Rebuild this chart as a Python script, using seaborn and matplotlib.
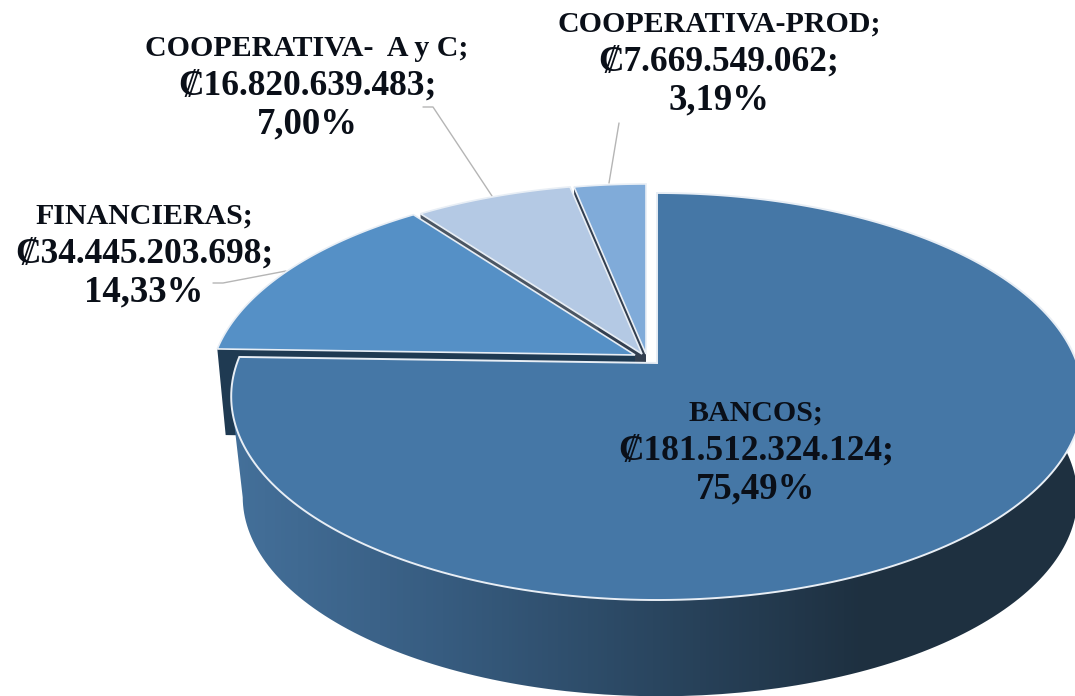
import numpy as np
import seaborn as sns
import matplotlib.pyplot as plt
from matplotlib.colors import ListedColormap
from matplotlib.patches import PathPatch
from matplotlib.path import Path

# data
categories = ["BANCOS", "FINANCIERAS", "COOPERATIVA-  A y C", "COOPERATIVA-PROD"]
amounts = [181512324124, 34445203698, 16820639483, 7669549062]
percent_labels = ["75,49%", "14,33%", "7,00%", "3,19%"]

top_colors = ["#4577A6", "#5590C6", "#B4C9E4", "#80ABD9"]
wall_colors = ["#1F3448", "#1F3A52", "#4B5663", "#333F50"]

# perspective of the pie, in pixels
RH, RV, K = 420, 198, 0.1646
apex = [(657, 363), (635, 355), (642, 354), (646, 354)]


def project(theta, cx, cy, scale=1.0, depth=0):
    # theta runs clockwise from 12 o'clock
    x = np.sin(theta)
    y = np.cos(theta)
    d = 1 + K * y
    return cx + scale * RH * x / d, cy + depth - scale * RV * y / d


def arc(start, end, cx, cy, scale=1.0, depth=0):
    theta = np.linspace(start, end, 240)
    return project(theta, cx, cy, scale, depth)


sns.set_theme(style="white")
plt.rcParams["font.family"] = ["Liberation Serif", "DejaVu Serif"]

fig, ax = plt.subplots(figsize=(10.75, 6.96), dpi=100)
fig.subplots_adjust(0, 0, 1, 1)

shares = np.array(amounts) / sum(amounts)
edges = np.concatenate([[0], np.cumsum(shares)]) * 2 * np.pi

# cut faces of the small slices, seen through the gaps
for i in [2, 3, 1]:
    cx, cy = apex[i]
    ox, oy = project(edges[i], cx, cy)
    d = 86
    bx, by = project(edges[i], cx, cy, 0.98, d)
    ax.fill([cx, ox, bx, cx], [cy, oy, by, cy + d], color=wall_colors[i], lw=0, zorder=1)

# tops of the small slices
for i in [2, 3, 1]:
    cx, cy = apex[i]
    xs, ys = arc(edges[i], edges[i + 1], cx, cy)
    ax.fill(np.r_[cx, xs], np.r_[cy, ys], facecolor=top_colors[i], edgecolor="#E8EEF5", lw=1.2,
            joinstyle="miter", zorder=2 if i != 1 else 3)

# outer wall of the big slice with its left to right shading
cx, cy = apex[0]
xs, ys = arc(edges[0], edges[1], cx, cy)
xb, yb = arc(edges[0], edges[1], cx + 3, cy, 0.98, 101)
# the wall ends on the silhouette, from leftmost top point to leftmost bottom point
it, ib = np.argmin(xs) + 1, np.argmin(xb) + 1
wall = np.column_stack([np.r_[xs[:it], xb[:ib][::-1]], np.r_[ys[:it], yb[:ib][::-1]]])
shade = sns.blend_palette(["#44709A", "#375C80", "#2A4660", "#1E3040", "#1E3040"], 256)
img = ax.imshow(np.linspace(0, 1, 256)[None, :], cmap=ListedColormap(shade), aspect="auto",
                extent=(232, 1075, 696, 180), zorder=4)
clip = PathPatch(Path(wall), transform=ax.transData, fc="none", ec="none")
ax.add_patch(clip)
img.set_clip_path(clip)

ax.fill(np.r_[cx, xs], np.r_[cy, ys], facecolor=top_colors[0], edgecolor="#E8EEF5", lw=1.4,
        joinstyle="miter", zorder=5)

# leader lines
leaders = [([213, 223, 286], [283, 283, 271]),
           ([423, 433, 492], [107, 107, 196]),
           ([619, 609], [123, 183])]
for lx, ly in leaders:
    ax.plot(lx, ly, color="#B5B5B5", lw=1, zorder=1)

# labels, one text per line since the caps and digits need different sizes
label_pos = [(756, 451), (144, 254), (307, 86), (719, 62)]
for name, value, pct, (tx, ty) in zip(categories, amounts, percent_labels, label_pos):
    money = f"{value:,}".replace(",", ".")
    rows = [(f"{name};", ty - 38, 21.5), (f"₡{money};", ty, 25.5), (pct, ty + 38, 26.5)]
    for txt, row_y, size in rows:
        ax.text(tx, row_y, txt, ha="center", va="center", fontsize=size, fontweight="bold",
                color="#0A0F18", zorder=6)

ax.set_xlim(0, 1075)
ax.set_ylim(696, 0)
ax.axis("off")
fig.savefig("out.png", dpi=100, facecolor="white")
